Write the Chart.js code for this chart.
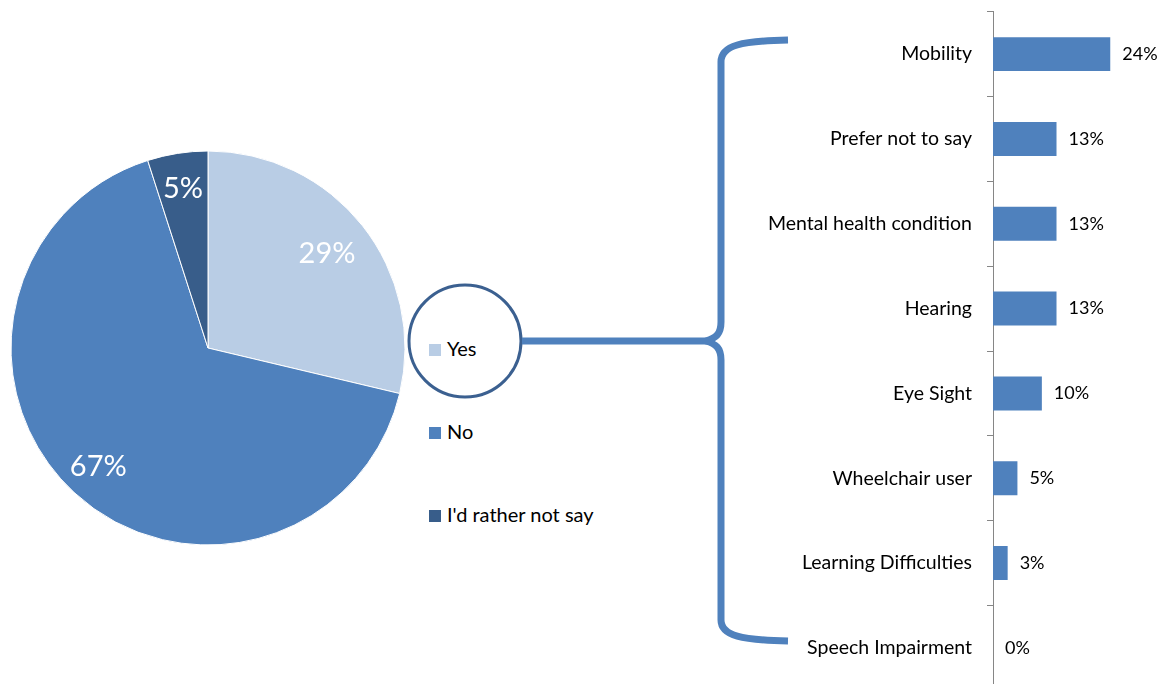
<!DOCTYPE html>
<html>
<head>
<meta charset="utf-8">
<script src="https://cdn.jsdelivr.net/npm/chart.js@4"></script>
<style>
  html, body { margin: 0; padding: 0; background: #fff; }
  #page { position: relative; width: 1166px; height: 684px; overflow: hidden; font-family: Lato, "Open Sans", sans-serif; }
  #pieBox { position: absolute; left: 0; top: 0; width: 416px; height: 684px; }
  #bar { position: absolute; left: 740px; top: -15px; }
  #legend { position: absolute; left: 429px; top: 0; }
  .item { position: absolute; left: 0; white-space: nowrap; font-size: 20px; color: #000; line-height: 22px; }
  .item span { display: inline-block; width: 12px; height: 12px; margin-right: 6px; vertical-align: 0px; }
  #deco { position: absolute; left: 0; top: 0; }
</style>
</head>
<body>
<div id="page">
  <div id="pieBox"><canvas id="pie"></canvas></div>
  <div id="legend"></div>
  <canvas id="bar" width="426" height="732"></canvas>
  <svg id="deco" width="1166" height="684">
    <circle cx="465" cy="341" r="56" fill="none" stroke="#3b6090" stroke-width="3"/>
    <line x1="522" y1="341" x2="710" y2="341" stroke="#4f81bd" stroke-width="7"/>
    <path d="M 788 40 C 742 41, 721 45, 721 62 L 721 322 C 721 334, 716 338, 706 341 C 716 344, 721 348, 721 360 L 721 620 C 721 636, 742 640, 788 641"
          fill="none" stroke="#4f81bd" stroke-width="7" stroke-linejoin="round"/>
  </svg>
</div>
<script>
// disability question: yes / no / rather not say
var answers = ["Yes", "No", "I'd rather not say"];
var answerValues = [29, 67, 5];
var answerColors = ["#b9cde5", "#4f81bd", "#385d8a"];

// breakdown of the "yes" answers
var types = ["Mobility", "Prefer not to say", "Mental health condition", "Hearing",
             "Eye Sight", "Wheelchair user", "Learning Difficulties", "Speech Impairment"];
var typeValues = [24, 13, 13, 13, 10, 5, 3, 0];

Chart.defaults.font.family = "Lato, 'Open Sans', sans-serif";
Chart.defaults.color = "#000";

// legend next to the pie
var legend = document.getElementById('legend');
var legendTop = [337, 420, 503];
answers.forEach(function(a, i){
  var d = document.createElement('div');
  d.className = 'item';
  d.style.top = legendTop[i] + 'px';
  d.innerHTML = '<span style="background:' + answerColors[i] + '"></span>' + a;
  legend.appendChild(d);
});

var pieLabels = {
  id: 'pieLabels',
  afterDatasetsDraw: function(chart){
    var ctx = chart.ctx;
    var meta = chart.getDatasetMeta(0);
    ctx.save();
    ctx.fillStyle = '#fff';
    ctx.font = '29px Lato, "Open Sans", sans-serif';
    ctx.textAlign = 'center';
    ctx.textBaseline = 'middle';
    meta.data.forEach(function(arc, i){
      var p = arc.getProps(['x', 'y', 'startAngle', 'endAngle', 'outerRadius'], true);
      var mid = (p.startAngle + p.endAngle) / 2;
      var r = p.outerRadius * (i == 0 ? 0.77 : 0.82);
      ctx.fillText(answerValues[i] + '%', p.x + Math.cos(mid) * r, p.y + Math.sin(mid) * r);
    });
    ctx.restore();
  }
};

new Chart(document.getElementById('pie'), {
  type: 'pie',
  data: {
    labels: answers,
    datasets: [{
      data: answerValues,
      backgroundColor: answerColors,
      borderColor: '#ffffff',
      borderWidth: 1
    }]
  },
  options: {
    responsive: true,
    maintainAspectRatio: false,
    animation: false,
    radius: 197,
    layout: { padding: { top: 12 } },
    plugins: { legend: { display: false }, tooltip: { enabled: false } }
  },
  plugins: [pieLabels]
});

var barLabels = {
  id: 'barLabels',
  afterDatasetsDraw: function(chart){
    var ctx = chart.ctx;
    var meta = chart.getDatasetMeta(0);
    ctx.save();
    ctx.fillStyle = '#000';
    ctx.font = '18px Lato, "Open Sans", sans-serif';
    ctx.textAlign = 'left';
    ctx.textBaseline = 'middle';
    meta.data.forEach(function(bar, i){
      ctx.fillText(typeValues[i] + '%', bar.x + 12, bar.y);
    });
    ctx.restore();
  }
};

new Chart(document.getElementById('bar'), {
  type: 'bar',
  data: {
    labels: types,
    datasets: [{
      data: typeValues,
      backgroundColor: '#4f81bd',
      barPercentage: 0.5,
      categoryPercentage: 0.8
    }]
  },
  options: {
    indexAxis: 'y',
    responsive: false,
    animation: false,
    layout: { padding: { right: 2 } },
    scales: {
      x: { display: false, min: 0, max: 35 },
      y: {
        afterFit: function(scale){ scale.width = 253; },
        grid: { drawOnChartArea: false, tickLength: 6, color: '#868686', offset: true },
        border: { color: '#868686', width: 1 },
        ticks: { padding: 15, font: { size: 19.5 }, color: '#000' }
      }
    },
    plugins: { legend: { display: false }, tooltip: { enabled: false } }
  },
  plugins: [barLabels]
});
</script>
</body>
</html>
